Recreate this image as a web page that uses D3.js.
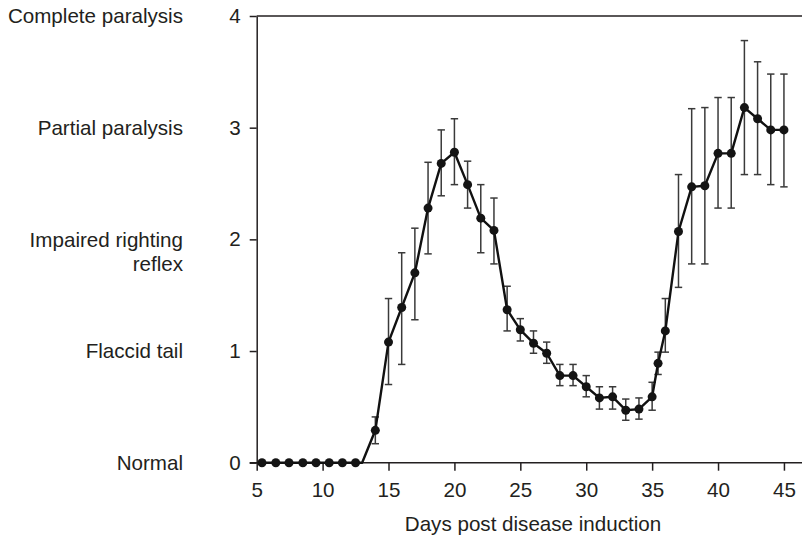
<!DOCTYPE html>
<html>
<head>
<meta charset="utf-8">
<script src="https://cdn.jsdelivr.net/npm/d3@7"></script>
<style>
    body { margin: 0; background: #fff; }
    svg { font-family: "Liberation Sans", Arial, Helvetica, sans-serif; }
</style>
</head>
<body>
<svg width="802" height="538"></svg>
<script>
// clinical score, baseline days (all zero)
const baseDays = [5.4, 6.45, 7.45, 8.5, 9.5, 10.5, 11.5, 12.5];
const baseScores = [0, 0, 0, 0, 0, 0, 0, 0];

// after onset (day 13 is only a bend of the line, no marker)
const days = [13, 14, 15, 16, 17, 18, 19, 20, 21, 22, 23, 24, 25, 26, 27, 28, 29, 30,
    31, 32, 33, 34, 35, 35.45, 36, 37, 38, 39, 40, 41, 42, 43, 44, 45];
const scores = [0, 0.29, 1.08, 1.39, 1.70, 2.28, 2.68, 2.78, 2.49, 2.19, 2.08, 1.37, 1.19, 1.07,
    0.98, 0.78, 0.78, 0.68, 0.58, 0.59, 0.47, 0.48, 0.59, 0.89, 1.18, 2.07, 2.47, 2.48,
    2.77, 2.77, 3.18, 3.08, 2.98, 2.98];
const errUp = [null, 0.12, 0.39, 0.49, 0.40, 0.41, 0.30, 0.30, 0.21, 0.30, 0.29, 0.21, 0.10, 0.11,
    0.10, 0.10, 0.10, 0.10, 0.10, 0.09, 0.10, 0.10, 0.13, 0.10, 0.29, 0.51, 0.70, 0.70,
    0.50, 0.50, 0.60, 0.51, 0.50, 0.50];
const errDown = [null, 0.12, 0.38, 0.51, 0.42, 0.41, 0.29, 0.29, 0.21, 0.31, 0.30, 0.19, 0.10, 0.09,
    0.09, 0.09, 0.09, 0.09, 0.10, 0.11, 0.09, 0.09, 0.12, 0.10, 0.19, 0.50, 0.69, 0.70,
    0.49, 0.49, 0.60, 0.50, 0.49, 0.51];

const xTicks = [5, 10, 15, 20, 25, 30, 35, 40, 45];
const yTicks = [0, 1, 2, 3, 4];
const yNames = ['Normal', 'Flaccid tail', 'Impaired righting\nreflex', 'Partial paralysis', 'Complete paralysis'];
const xTitle = 'Days post disease induction';

const svg = d3.select('svg');
const ink = '#231f20';
const fs = '20.6px';

const x = d3.scaleLinear().domain([5, 46.37]).range([256.7, 802]);
const y = d3.scaleLinear().domain([0, 4]).range([462.7, 16]);

// x axis
const xAxis = svg.append('g')
    .attr('transform', `translate(0,${y(0)})`)
    .call(d3.axisBottom(x).tickValues(xTicks).tickSize(8).tickPadding(12).tickSizeOuter(0));
xAxis.select('.domain').attr('d', `M${x(5) - 7},0H802`);

// y axis
const yAxis = svg.append('g')
    .attr('transform', `translate(${x(5)},0)`)
    .call(d3.axisLeft(y).tickValues(yTicks).tickFormat(d3.format('d'))
        .tickSize(7).tickPadding(9).tickSizeOuter(0));

// top frame line at 4
svg.append('line')
    .attr('x1', x(5)).attr('x2', 802)
    .attr('y1', y(4)).attr('y2', y(4))
    .attr('stroke', ink).attr('stroke-width', 1.5);

svg.selectAll('.domain, .tick line').attr('stroke', ink).attr('stroke-width', 1.5);
svg.selectAll('.tick text').attr('fill', ink).style('font-size', fs)
    .style('font-family', '"Liberation Sans", Arial, sans-serif');

// y category names
svg.append('g').selectAll('text')
    .data(yTicks)
    .join('text')
    .attr('x', 183)
    .attr('y', d => y(d))
    .attr('text-anchor', 'end')
    .attr('fill', ink)
    .style('font-size', fs)
    .each(function (d, i) {
        const lines = yNames[i].split('\n');
        d3.select(this).selectAll('tspan')
            .data(lines)
            .join('tspan')
            .attr('x', 183)
            .attr('dy', (l, j) => j == 0 ? '0.35em' : '1.2em')
            .text(l => l);
    });

// x title
svg.append('text')
    .attr('x', 533).attr('y', 531)
    .attr('text-anchor', 'middle')
    .attr('fill', ink)
    .style('font-size', fs)
    .text(xTitle);

// data
const base = baseDays.map((d, i) => ({ day: d, score: baseScores[i], up: 0, down: 0 }));
const main = days.map((d, i) => ({ day: d, score: scores[i], up: errUp[i], down: errDown[i] }));
const all = base.concat(main);

// error bars
const bars = svg.append('g')
    .attr('stroke', '#3a3a3a').attr('stroke-width', 1.5)
    .selectAll('g')
    .data(main.filter(d => d.up !== null))
    .join('g');
bars.append('line')
    .attr('x1', d => x(d.day)).attr('x2', d => x(d.day))
    .attr('y1', d => y(d.score + d.up)).attr('y2', d => y(d.score - d.down));
bars.append('line')
    .attr('x1', d => x(d.day) - 3.7).attr('x2', d => x(d.day) + 3.7)
    .attr('y1', d => y(d.score + d.up)).attr('y2', d => y(d.score + d.up));
bars.append('line')
    .attr('x1', d => x(d.day) - 3.7).attr('x2', d => x(d.day) + 3.7)
    .attr('y1', d => y(d.score - d.down)).attr('y2', d => y(d.score - d.down));

// line
svg.append('path')
    .datum(all)
    .attr('fill', 'none')
    .attr('stroke', '#111')
    .attr('stroke-width', 2.4)
    .attr('stroke-linejoin', 'round')
    .attr('d', d3.line().x(d => x(d.day)).y(d => y(d.score)));

// markers
svg.append('g').selectAll('circle')
    .data(all.filter(d => d.up !== null))
    .join('circle')
    .attr('cx', d => x(d.day))
    .attr('cy', d => y(d.score))
    .attr('r', 4.5)
    .attr('fill', '#141414');
</script>
</body>
</html>
